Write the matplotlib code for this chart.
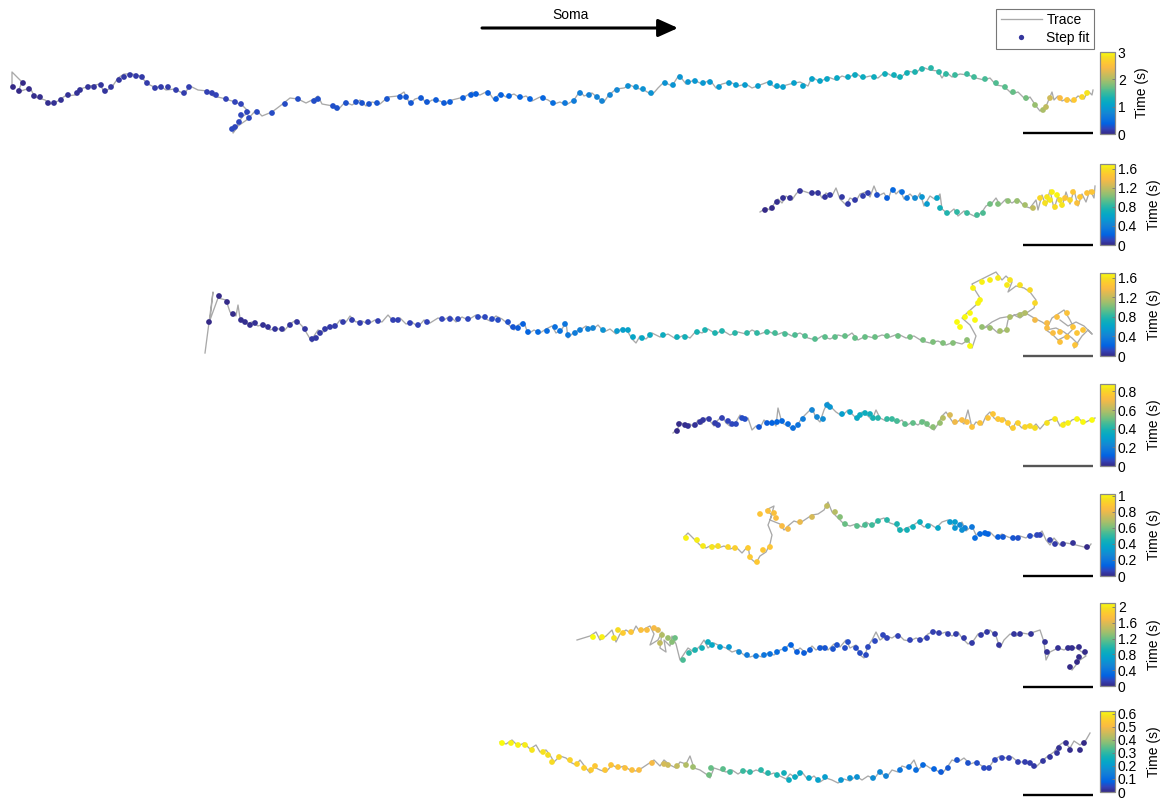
import numpy as np
import matplotlib
matplotlib.use("Agg")
import matplotlib.pyplot as plt
from matplotlib.colors import LinearSegmentedColormap, Normalize
from matplotlib.cm import ScalarMappable
from matplotlib.lines import Line2D

plt.rcParams["font.family"] = ["Liberation Sans", "DejaVu Sans"]

# parula (MATLAB) anchors, every 4th entry of the 64-colour table
PARULA = [(0.2081, 0.1663, 0.5292), (0.1959, 0.2645, 0.7279), (0.0117, 0.3875, 0.8820),
          (0.0498, 0.4586, 0.8641), (0.0793, 0.5200, 0.8312), (0.0343, 0.5966, 0.8199),
          (0.0228, 0.6535, 0.7768), (0.0843, 0.6928, 0.7062), (0.2178, 0.7250, 0.6193),
          (0.3953, 0.7459, 0.5244), (0.5709, 0.7485, 0.4494), (0.7184, 0.7411, 0.3905),
          (0.8507, 0.7299, 0.3360), (0.9739, 0.7314, 0.2666), (0.9955, 0.7861, 0.1967),
          (0.9626, 0.8705, 0.1309), (0.9763, 0.9831, 0.0538)]
cmap = LinearSegmentedColormap.from_list("parula", PARULA, N=256)

# ---- data: step-fit points (x, y, time) and raw traces (x, y), image units ----
STEP1 = [(13,87,0.00),(19,91,0.01),(23,83,0.01),(29,89,0.02),(34,96,0.03),(40,97,0.03),(48,103,0.04),
         (54,103,0.05),(61,100,0.05),(68,95,0.06),(77,93,0.07),(80,90,0.07),(88,87,0.08),(94,87,0.08),
         (101,85,0.09),(105,91,0.09),(111,87,0.10),(119,80,0.10),(124,77,0.11),(130,75,0.11),(136,76,0.12),
         (142,77,0.12),(147,83,0.13),(155,88,0.13),(161,87,0.14),(168,87,0.14),(176,90,0.15),(184,93,0.15),
         (189,87,0.16),(207,92,0.17),(212,93,0.17),(216,95,0.18),(226,99,0.18),(235,102,0.19),(241,104,0.19),
         (247,112,0.20),(241,115,0.20),(239,122,0.21),(235,127,0.21),(232,129,0.22),(249,118,0.22),
         (257,112,0.23),(272,113,0.24),(285,104,0.245),(298,99,0.25),(314,101,0.255),(318,99,0.26),
         (333,106,0.265),(337,108,0.27),(346,103,0.275),(356,102,0.28),(362,103,0.285),(369,104,0.29),
         (377,103,0.295),(387,99,0.30),(400,97,0.305),(406,97,0.31),(411,103,0.315),(421,98,0.32),
         (427,102,0.325),(436,100,0.33),(444,103,0.335),(450,102,0.34),(463,98,0.345),(471,95,0.35),
         (476,94,0.355),(488,93,0.36),(496,99,0.365),(501,95,0.37),(509,96,0.375),(520,97,0.38),(530,99,0.39),
         (543,98,0.42),(553,103,0.50),(565,103,0.60),(574,101,0.65),(580,93,0.68),(589,95,0.70),
         (597,97,0.72),(602,101,0.74),(610,95,0.76),(617,90,0.78),(628,86,0.85),(636,87,0.86),(643,89,0.87),
         (651,93,0.88),(665,83,0.89),(673,85,0.90),(680,77,0.91),(688,82,0.92),(695,81,0.93),(703,83,0.94),
         (710,82,0.95),(719,87,0.96),(729,83,0.97),(736,85,0.98),(745,85,0.99),(758,86,1.00),(770,83,1.01),
         (777,86,1.02),(783,87,1.03),(794,83,1.04),(803,86,1.05),(812,79,1.08),(820,81,1.10),(827,79,1.12),
         (837,78,1.14),(848,77,1.16),(855,75,1.18),(863,77,1.20),(874,77,1.22),(885,74,1.24),(894,75,1.26),
         (900,77,1.28),(907,73,1.30),(915,72,1.35),(922,69,1.38),(931,68,1.41),(939,72,1.44),(946,74,1.47),
         (955,75,1.50),(967,74,1.52),(974,77,1.54),(985,79,1.56),(996,83,1.60),(1005,87,1.64),(1013,92,1.68),
         (1026,98,1.75),(1035,105,1.90),(1043,110,2.00),(1046,107,2.10),(1050,98,2.20),(1060,98,2.45),
         (1067,100,2.55),(1074,100,2.62),(1082,97,2.75),(1087,93,2.85)]
TRACE1 = [(12,86),(12,72),(22,82),(18,92),(30,88),(35,97),(45,100),(50,104),(58,101),(65,96),(75,95),(80,89),
          (90,86),(100,84),(104,92),(112,87),(118,78),(124,74),(132,74),(140,76),(148,84),(156,88),(160,86),
          (166,90),(175,89),(184,94),(190,86),(198,90),(208,91),(213,96),(222,98),(232,101),(242,105),
          (247,110),(250,112),(243,116),(238,123),(236,128),(233,133),(238,126),(248,119),(256,110),(262,116),
          (272,112),(280,106),(290,98),(298,99),(306,103),(314,99),(318,96),(322,104),(333,106),(338,110),
          (345,102),(352,105),(360,100),(366,106),(372,102),(380,104),(388,97),(398,96),(404,92),(410,104),
          (415,99),(422,97),(426,104),(432,100),(440,101),(446,104),(452,100),(460,98),(466,96),(472,92),
          (480,95),(488,91),(494,100),(500,93),(506,97),(514,94),(520,98),(526,96),(532,101),(540,97),
          (548,100),(554,104),(560,102),(566,105),(574,100),(580,91),(584,96),(592,93),(598,98),(604,102),
          (608,96),(616,89),(624,88),(630,85),(636,88),(644,90),(652,95),(658,88),(664,82),(672,86),(679,75),
          (686,84),(694,80),(702,84),(710,80),(716,88),(722,84),(730,82),(738,86),(746,84),(752,88),(760,85),
          (768,82),(776,88),(783,86),(790,84),(800,82),(808,86),(812,77),(820,82),(828,77),(836,80),(842,76),
          (848,78),(856,73),(862,78),(870,76),(878,78),(885,72),(892,76),(900,78),(908,71),(916,73),(922,67),
          (930,70),(938,71),(942,78),(946,72),(952,77),(960,74),(968,75),(976,78),(984,80),(990,78),(996,85),
          (1002,86),(1008,90),(1012,94),(1018,92),(1026,100),(1030,97),(1036,106),(1040,111),(1044,108),
          (1047,104),(1052,92),(1054,100),(1058,96),(1062,101),(1068,98),(1072,102),(1078,96),(1084,99),
          (1088,91),(1092,95),(1093,90)]

STEP2 = [(765,210,0.00),(772,208,0.01),(777,202,0.02),(783,198,0.03),(790,198,0.03),(800,191,0.04),
         (812,193,0.04),(818,193,0.05),(825,197,0.05),(830,195,0.06),(842,197,0.06),(848,204,0.07),
         (855,200,0.07),(863,196,0.08),(868,193,0.09),(877,195,0.15),(887,198,0.20),(893,190,0.24),
         (902,192,0.28),(907,198,0.32),(915,198,0.45),(922,197,0.52),(927,204,0.56),(937,198,0.62),
         (940,208,0.72),(947,213,0.78),(957,212,0.82),(967,213,0.85),(977,215,0.88),(983,213,0.90),
         (990,204,0.98),(998,204,1.02),(1008,201,1.05),(1017,201,1.08),(1025,205,1.12),(1033,208,1.20),
         (1040,198,1.55),(1045,203,1.60),(1047,197,1.62),(1050,200,1.64),(1052,192,1.66),(1055,207,1.58),
         (1057,195,1.68),(1060,200,1.60),(1062,205,1.62),(1065,198,1.45),(1070,200,1.56),(1073,192,1.47),
         (1077,203,1.42),(1080,197,1.48),(1087,193,1.44),(1092,192,1.46)]
TRACE2 = [(760,212),(766,208),(770,210),(774,204),(778,199),(782,203),(786,196),(792,200),(796,194),(800,190),
          (806,192),(812,194),(818,191),(822,198),(826,193),(832,196),(836,188),(840,199),(846,205),(850,198),
          (856,201),(860,194),(866,192),(870,197),(874,186),(878,196),(884,193),(888,200),(892,188),(896,194),
          (900,190),(904,199),(910,194),(916,200),(920,193),(924,206),(930,196),(936,200),(940,194),(942,209),
          (948,214),(954,209),(958,216),(964,211),(970,214),(976,217),(982,212),(986,206),(992,203),(996,198),
          (1000,205),(1006,199),(1012,203),(1018,199),(1024,206),(1030,208),(1036,200),(1038,210),(1042,195),
          (1046,206),(1050,190),(1054,209),(1058,196),(1062,207),(1066,192),(1070,204),(1074,190),(1078,206),
          (1082,194),(1086,202),(1090,190),(1094,198),(1095,186)]

STEP3 = [(209,322,0.000),(219,296,0.004),(227,302,0.008),(233,314,0.012),(241,320,0.016),(245,322,0.020),
         (250,325,0.024),(255,323,0.028),(263,325,0.032),(268,327,0.036),(275,329,0.040),(282,329,0.044),
         (290,325,0.048),(297,322,0.052),(305,329,0.056),(312,339,0.060),(316,338,0.063),(320,333,0.066),
         (325,329,0.069),(330,327,0.072),(335,326,0.075),(343,322,0.078),(352,320,0.081),(360,323,0.084),
         (368,322,0.087),(378,321,0.090),(393,320,0.093),(398,320,0.096),(410,323,0.099),(418,325,0.102),
         (427,322,0.105),(442,319,0.108),(450,319,0.111),(458,319,0.114),(468,319,0.117),(478,317,0.120),
         (485,317,0.125),(492,319,0.130),(498,320,0.135),(508,322,0.15),(513,327,0.17),(518,328,0.19),
         (523,324,0.21),(528,332,0.23),(538,332,0.25),(547,331,0.27),(555,327,0.29),(560,331,0.30),
         (565,324,0.32),(568,335,0.34),(575,333,0.36),(580,330,0.38),(588,329,0.40),(593,328,0.42),
         (603,330,0.50),(617,331,0.55),(623,330,0.58),(628,330,0.61),(633,337,0.63),(642,338,0.65),
         (650,335,0.67),(663,335,0.69),(677,337,0.71),(685,337,0.73),(697,332,0.75),(705,330,0.76),
         (715,333,0.77),(722,331,0.78),(735,333,0.80),(747,333,0.82),(757,333,0.83),(767,332,0.85),
         (775,333,0.88),(785,334,0.89),(795,335,0.90),(805,336,0.91),(815,339,0.92),(825,337,0.93),
         (835,337,0.94),(845,336,0.95),(855,338,0.955),(865,337,0.96),(875,337,0.965),(887,336,0.97),
         (898,336,0.98),(910,337,0.99),(923,340,1.00),(933,342,1.01),(943,343,1.02),(953,343,1.03),
         (967,340,1.05),(982,327,1.07),(990,328,1.09),(1000,331,1.11),(1007,330,1.12),(1010,317,1.13),
         (1020,315,1.14),(1025,313,1.15),(1035,320,1.36),(1047,323,1.38),(1047,328,1.39),(1053,333,1.40),
         (1057,317,1.41),(1060,332,1.42),(1060,342,1.43),(1067,313,1.44),(1067,337,1.44),(1073,327,1.45),
         (1075,345,1.45),(1077,333,1.46),(1083,330,1.46),(1035,303,1.56),(1030,290,1.58),(1020,285,1.60),
         (1010,280,1.62),(1007,285,1.63),(998,278,1.64),(990,280,1.65),(982,282,1.66),(973,288,1.67),
         (980,300,1.68),(978,303,1.68),(975,320,1.69),(970,313,1.69),(965,317,1.70),(957,322,1.70),
         (960,327,1.70),(970,346,1.70)]
TRACE3 = [(205,353),(213,292),(210,320),(218,298),(226,300),(230,312),(236,316),(238,305),(240,318),(246,324),
          (252,322),(258,326),(264,324),(270,330),(276,328),(284,331),(290,324),(296,320),(302,326),(306,332),
          (312,342),(314,336),(318,330),(324,332),(330,325),(334,328),(340,320),(346,322),(350,316),(356,322),
          (362,321),(368,324),(375,320),(382,322),(388,315),(394,322),(400,318),(406,324),(412,322),(418,327),
          (424,320),(430,323),(438,318),(444,320),(450,316),(456,322),(462,317),(468,320),(476,315),(484,318),
          (490,321),(496,316),(502,319),(508,324),(514,330),(518,325),(524,322),(528,334),(534,330),(540,333),
          (546,329),(552,326),(556,333),(562,329),(566,322),(568,338),(574,332),(580,330),(586,326),(592,330),
          (598,325),(604,332),(610,329),(616,334),(622,328),(628,332),(632,339),(636,343),(640,336),(646,339),
          (652,333),(660,337),(668,334),(676,339),(684,335),(690,338),(696,331),(702,333),(708,329),(716,334),
          (722,330),(730,335),(738,332),(746,334),(752,330),(760,334),(768,331),(776,335),(784,332),(792,336),
          (800,333),(808,338),(816,340),(822,336),(830,339),(838,335),(846,337),(852,333),(858,340),(866,336),
          (874,338),(882,335),(890,337),(898,334),(906,338),(914,336),(922,341),(930,343),(938,341),(946,345),
          (954,342),(962,344),(968,340),(972,348),(976,336),(970,325),(962,318),(968,312),(976,305),(980,298),
          (975,290),(972,284),(980,280),(988,276),(996,272),(1002,280),(1006,276),(1012,282),(1008,292),
          (1016,286),(1024,288),(1030,292),(1036,300),(1034,308),(1028,312),(1020,318),(1014,315),(1008,320),
          (1006,330),(998,333),(990,326),(984,328),(992,322),(1000,318),(1012,316),(1024,312),(1034,318),
          (1042,322),(1048,326),(1052,318),(1058,314),(1064,310),(1070,320),(1074,328),(1066,336),(1058,340),
          (1052,334),(1046,330),(1056,328),(1064,332),(1072,338),(1078,344),(1074,348),(1082,336),(1088,330),
          (1092,334),(1084,326),(1076,322),(1068,326),(1060,320)]

STEP4 = [(677,431,0.00),(679,424,0.005),(685,425,0.01),(688,426,0.015),(695,425,0.02),(700,422,0.025),
         (703,420,0.03),(709,419,0.035),(715,423,0.04),(718,425,0.045),(722,418,0.05),(728,421,0.055),
         (732,424,0.06),(736,424,0.065),(742,418,0.07),(745,419,0.075),(759,427,0.09),(767,423,0.10),
         (772,423,0.11),(777,422,0.12),(782,421,0.13),(788,424,0.14),(793,428,0.15),(798,425,0.16),
         (803,419,0.19),(812,410,0.22),(817,417,0.23),(823,419,0.24),(827,405,0.26),(830,407,0.27),
         (842,414,0.30),(850,412,0.32),(857,418,0.34),(860,415,0.35),(865,413,0.36),(870,414,0.37),
         (873,418,0.39),(878,418,0.41),(887,419,0.43),(892,419,0.44),(897,421,0.46),(905,424,0.48),
         (913,423,0.49),(922,422,0.50),(927,424,0.51),(933,427,0.54),(940,423,0.56),(943,418,0.60),
         (950,415,0.66),(955,422,0.70),(962,420,0.72),(967,422,0.73),(972,427,0.74),(980,423,0.745),
         (988,418,0.75),(993,414,0.755),(998,419,0.76),(1002,420,0.765),(1008,423,0.77),(1013,428,0.78),
         (1018,423,0.79),(1025,427,0.80),(1030,426,0.81),(1035,428,0.82),(1047,423,0.83),(1055,419,0.84),
         (1063,425,0.85),(1068,423,0.86),(1077,419,0.87),(1083,422,0.875),(1092,420,0.88)]
TRACE4 = [(673,433),(678,428),(680,422),(686,426),(690,424),(694,427),(698,420),(702,424),(706,418),(710,421),
          (714,426),(718,420),(722,416),(726,423),(730,426),(736,422),(740,415),(744,420),(748,418),(752,430),
          (756,426),(760,428),(764,420),(768,424),(772,420),(776,426),(778,408),(782,423),(788,426),(794,430),
          (798,424),(802,418),(808,412),(812,408),(816,418),(820,422),(824,410),(828,402),(832,408),(836,412),
          (842,416),(848,410),(852,414),(858,420),(862,412),(868,416),(872,420),(876,410),(880,418),(886,421),
          (892,418),(896,423),(902,420),(906,426),(912,422),(918,425),(924,420),(928,426),(934,430),(938,424),
          (942,416),(946,412),(950,418),(954,424),(960,420),(964,424),(968,410),(972,428),(976,422),(982,425),
          (986,416),(990,412),(994,418),(998,421),(1004,418),(1008,424),(1012,430),(1016,422),(1022,428),
          (1028,425),(1032,428),(1036,424),(1040,429),(1046,422),(1050,420),(1056,418),(1060,426),(1064,422),
          (1068,424),(1072,420),(1078,418),(1084,423),(1090,420),(1095,418)]

STEP5 = [(1087,547,0.00),(1073,543,0.02),(1063,544,0.03),(1055,544,0.04),(1050,540,0.05),(1040,535,0.06),
         (1037,535,0.07),(1030,536,0.08),(1018,538,0.09),(1013,538,0.10),(1003,537,0.11),(998,537,0.12),
         (988,534,0.13),(985,533,0.14),(980,534,0.15),(975,538,0.16),(972,527,0.20),(965,528,0.24),
         (960,525,0.27),(962,530,0.29),(955,528,0.31),(950,522,0.33),(955,522,0.34),(938,528,0.38),
         (928,526,0.40),(920,522,0.42),(913,527,0.43),(907,530,0.44),(900,530,0.45),(897,524,0.46),
         (887,520,0.48),(878,521,0.50),(872,525,0.52),(865,525,0.54),(857,526,0.56),(845,524,0.58),
         (840,517,0.62),(835,512,0.70),(827,506,0.72),(812,517,0.76),(800,522,0.80),(788,529,0.82),
         (782,526,0.83),(776,518,0.84),(774,513,0.85),(768,511,0.86),(760,514,0.87),(770,547,0.88),
         (763,550,0.885),(757,562,0.89),(750,557,0.895),(748,548,0.90),(735,548,0.91),(728,547,0.93),
         (718,546,0.95),(712,547,0.97),(703,546,0.98),(697,540,0.99),(686,538,1.00)]
TRACE5 = [(684,537),(688,533),(696,541),(700,545),(706,548),(712,545),(718,548),(724,546),(730,549),(736,547),
          (742,553),(748,546),(750,558),(756,563),(760,556),(766,552),(770,544),(772,535),(768,525),(772,515),
          (766,510),(774,506),(770,520),(780,524),(784,530),(788,526),(794,521),(800,523),(806,519),(812,515),
          (818,514),(824,510),(828,502),(832,512),(838,518),(844,524),(850,526),(856,524),(862,527),(866,522),
          (872,526),(878,520),(884,518),(890,523),(896,525),(900,532),(906,528),(912,526),(918,522),(924,527),
          (930,524),(936,528),(942,522),(948,520),(952,524),(956,528),(962,522),(966,531),(972,526),(976,535),
          (980,532),(986,536),(990,532),(996,538),(1002,534),(1008,537),(1014,539),(1020,536),(1026,538),
          (1030,534),(1036,537),(1042,531),(1046,540),(1050,545),(1054,538),(1060,545),(1066,543),(1072,544),
          (1080,546),(1088,548),(1091,544)]

STEP6 = [(1070,667,0.00),(1077,662,0.005),(1079,657,0.01),(1085,652,0.015),(1079,647,0.02),(1072,648,0.025),
         (1068,648,0.03),(1058,648,0.035),(1047,652,0.04),(1045,642,0.045),(1031,634,0.05),(1020,634,0.055),
         (1014,634,0.06),(999,645,0.065),(995,634,0.07),(987,632,0.075),(981,635,0.08),(972,643,0.085),
         (964,638,0.09),(956,634,0.095),(948,634,0.10),(939,633,0.105),(933,632,0.11),(927,638,0.115),
         (920,640,0.12),(910,640,0.125),(898,636,0.13),(887,638,0.135),(883,635,0.14),(875,641,0.15),
         (868,647,0.155),(866,655,0.16),(860,653,0.165),(856,648,0.17),(848,642,0.175),(845,648,0.18),
         (837,645,0.19),(833,649,0.20),(825,648,0.21),(820,648,0.22),(810,650,0.23),(804,653,0.24),
         (797,652,0.25),(791,645,0.27),(785,649,0.30),(777,652,0.34),(770,654,0.37),(764,655,0.40),
         (756,656,0.42),(747,655,0.45),(739,652,0.55),(729,647,0.65),(720,647,0.72),(712,645,0.80),
         (708,642,0.85),(702,648,0.90),(695,650,0.95),(689,653,1.00),(683,660,1.10),(675,638,1.20),
         (672,642,1.28),(668,638,1.35),(662,635,1.42),(660,643,1.48),(658,630,1.60),(654,628,1.70),
         (647,630,1.74),(641,630,1.76),(631,632,1.80),(623,633,1.85),(618,630,1.95),(614,638,2.00),
         (602,637,2.05),(593,637,2.10)]
TRACE6 = [(577,640),(590,636),(596,632),(600,640),(606,636),(612,630),(616,642),(620,634),(626,630),(632,634),
          (636,626),(640,632),(646,628),(650,626),(654,634),(650,645),(658,640),(662,632),(660,648),(666,652),
          (664,640),(670,646),(672,636),(676,644),(680,660),(684,654),(688,648),(694,652),(700,646),(704,640),
          (708,648),(714,643),(720,646),(726,648),(732,652),(738,650),(744,655),(750,657),(756,655),(762,657),
          (768,653),(774,655),(780,650),(786,648),(790,643),(796,652),(800,648),(806,653),(812,646),(816,650),
          (822,646),(828,650),(834,644),(840,647),(846,640),(850,648),(856,645),(860,655),(864,658),(868,646),
          (872,640),(876,632),(880,640),(886,636),(892,638),(898,634),(904,640),(910,641),(916,638),(922,640),
          (928,634),(934,631),(940,634),(946,632),(952,636),(958,632),(962,638),(968,644),(974,640),(978,634),
          (984,633),(990,630),(996,636),(1000,648),(1004,640),(1010,634),(1016,636),(1022,633),(1028,634),
          (1034,632),(1040,630),(1044,642),(1046,660),(1050,652),(1058,648),(1064,650),(1070,646),(1076,648),
          (1082,652),(1086,656),(1080,660),(1076,665),(1072,670)]

STEP7 = [(1084,743,0.000),(1080,750,0.003),(1070,750,0.006),(1066,743,0.009),(1059,748,0.012),(1057,753,0.015),
         (1050,757,0.018),(1043,761,0.021),(1034,766,0.024),(1030,763,0.027),(1025,762,0.030),(1018,762,0.033),
         (1009,758,0.036),(1002,758,0.039),(995,760,0.042),(989,768,0.045),(984,768,0.048),(977,763,0.052),
         (968,763,0.056),(957,760,0.060),(948,768,0.064),(941,772,0.068),(934,769,0.08),(923,765,0.09),
         (916,770,0.10),(909,767,0.11),(900,770,0.12),(886,776,0.15),(880,772,0.16),(873,778,0.17),
         (857,777,0.18),(850,778,0.185),(841,780,0.19),(825,777,0.21),(818,780,0.22),(809,778,0.23),
         (800,773,0.24),(795,777,0.245),(789,780,0.25),(784,773,0.26),(777,775,0.28),(768,773,0.29),
         (761,770,0.295),(750,772,0.30),(743,771,0.31),(730,772,0.32),(723,769,0.34),(711,768,0.35),
         (709,775,0.36),(693,767,0.40),(686,765,0.42),(677,766,0.44),(668,765,0.45),(664,764,0.46),
         (652,763,0.50),(639,770,0.51),(632,770,0.515),(625,768,0.52),(618,767,0.525),(611,765,0.53),
         (605,770,0.535),(595,766,0.54),(591,770,0.545),(584,768,0.55),(577,764,0.555),(570,760,0.56),
         (559,757,0.57),(552,762,0.575),(548,755,0.58),(543,752,0.585),(532,750,0.59),(525,745,0.60),
         (518,745,0.605),(511,743,0.61),(502,743,0.62)]
TRACE7 = [(500,742),(506,744),(512,740),(518,746),(524,743),(530,749),(536,745),(540,752),(546,750),(550,755),
          (554,762),(560,756),(566,758),(570,762),(576,765),(580,760),(586,768),(590,773),(594,767),(600,770),
          (606,772),(612,765),(618,768),(624,766),(630,770),(636,771),(642,768),(648,764),(654,760),(660,766),
          (664,760),(670,765),(676,768),(680,762),(686,764),(690,756),(694,768),(700,770),(706,774),(710,778),
          (714,768),(720,770),(726,772),(732,770),(738,774),(744,770),(750,773),(756,770),(762,772),(768,775),
          (774,773),(780,776),(786,779),(790,774),(796,778),(802,772),(808,780),(814,776),(820,782),(826,778),
          (832,780),(838,783),(844,779),(850,781),(856,776),(862,780),(868,776),(874,779),(880,771),(886,778),
          (892,770),(898,772),(902,766),(908,768),(914,760),(918,770),(924,764),(930,768),(936,770),(942,774),
          (948,766),(952,760),(958,762),(964,758),(970,764),(976,762),(982,766),(988,769),(994,760),(1000,756),
          (1006,758),(1012,757),(1018,762),(1024,762),(1030,764),(1036,767),(1042,761),(1048,756),(1054,752),
          (1058,746),(1064,742),(1070,748),(1074,741),(1080,745),(1086,740),(1090,733)]

STEPS = [STEP1, STEP2, STEP3, STEP4, STEP5, STEP6, STEP7]
TRACES = [TRACE1, TRACE2, TRACE3, TRACE4, TRACE5, TRACE6, TRACE7]
T_MAX = [3.0, 1.7, 1.7, 0.88, 1.02, 2.1, 0.62]
CB_TICKS = [[0, 1, 2, 3],
            [0, 0.4, 0.8, 1.2, 1.6],
            [0, 0.4, 0.8, 1.2, 1.6],
            [0, 0.2, 0.4, 0.6, 0.8],
            [0, 0.2, 0.4, 0.6, 0.8, 1],
            [0, 0.4, 0.8, 1.2, 1.6, 2],
            [0, 0.1, 0.2, 0.3, 0.4, 0.5, 0.6]]

# layout in image pixels
W, H = 1163, 801
CB_SPAN = [(52, 134), (164, 245), (273, 356), (384, 466), (494, 576), (603, 686), (711, 792)]
BAR_Y = [133, 245, 356, 466, 576, 687, 795]
BAR_COL = ["k", "k", "#555555", "#555555", "k", "k", "k"]
BAR_X = (1023, 1093)

fig = plt.figure(figsize=(W / 100, H / 100), dpi=100)
ax = fig.add_axes([0, 0, 1, 1])
ax.set_xlim(0, W)
ax.set_ylim(H, 0)
ax.axis("off")

for i in range(7):
    tr = np.array(TRACES[i], dtype=float)
    st = np.array(STEPS[i], dtype=float)
    ax.plot(tr[:, 0], tr[:, 1], color="#a9a9a9", lw=0.95, zorder=1)
    ax.scatter(st[:, 0], st[:, 1], c=st[:, 2], cmap=cmap, vmin=0, vmax=T_MAX[i],
               s=17, edgecolors="none", zorder=2)
    ax.plot(BAR_X, (BAR_Y[i], BAR_Y[i]), color=BAR_COL[i], lw=1.7, solid_capstyle="butt")

    top, bot = CB_SPAN[i]
    cax = fig.add_axes([1100 / W, 1 - bot / H, 15 / W, (bot - top) / H])
    sm = ScalarMappable(norm=Normalize(0, T_MAX[i]), cmap=cmap)
    cb = fig.colorbar(sm, cax=cax, ticks=CB_TICKS[i])
    cb.outline.set_edgecolor("#8a8a8a")
    cb.outline.set_linewidth(0.9)
    cax.tick_params(labelsize=10, direction="in", length=2.5, width=0.6,
                    color="#777777", pad=2)
    cb.set_ticklabels([f"{v:g}" for v in CB_TICKS[i]])
    cb.set_label("Time (s)", fontsize=10, labelpad=7)

# direction arrow
ax.annotate("", xy=(678, 28), xytext=(482, 28),
            arrowprops=dict(arrowstyle="-|>,head_length=1.0,head_width=0.45",
                            mutation_scale=12, lw=2.2, color="k", shrinkA=0, shrinkB=0))
ax.text(571, 15, "Soma", fontsize=10, ha="center", va="center")

handles = [Line2D([], [], color="#a9a9a9", lw=0.95, label="Trace"),
           Line2D([], [], ls="none", marker="o", ms=3.8, mec="none",
                  color=cmap(0.03), label="Step fit")]
leg = fig.legend(handles=handles, loc="upper right", bbox_to_anchor=(1094 / W, 1 - 9 / H),
                 fontsize=10, frameon=True, fancybox=False, handlelength=3.0,
                 handletextpad=0.3, labelspacing=0.25, borderpad=0.3, borderaxespad=0)
leg.get_frame().set_edgecolor("#555555")
leg.get_frame().set_linewidth(0.8)

fig.savefig("out.png", dpi=100)
